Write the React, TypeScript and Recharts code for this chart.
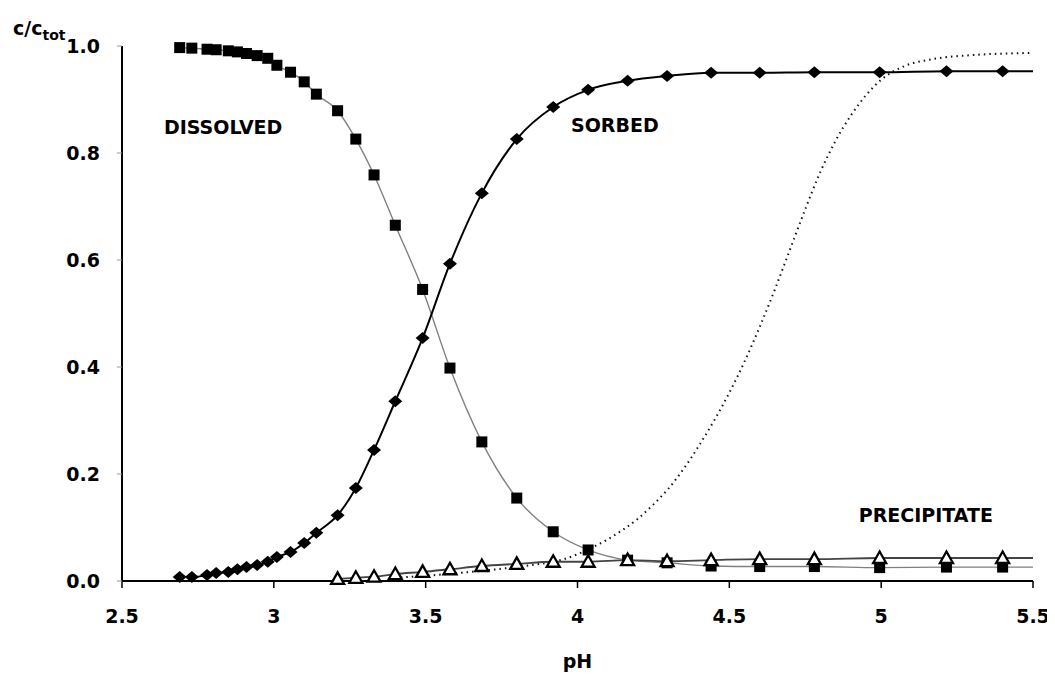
import { ComposedChart, Line, XAxis, YAxis, ReferenceDot } from "recharts";

// pH of the sampled points (shared by all three measured series)
const phPoints = [
  2.69, 2.73, 2.78, 2.81, 2.85, 2.88, 2.91, 2.945, 2.98, 3.01, 3.055, 3.1, 3.14,
  3.21, 3.27, 3.33, 3.4, 3.49, 3.58, 3.685, 3.8, 3.92, 4.035, 4.165, 4.295,
  4.44, 4.6, 4.78, 4.995, 5.215, 5.4
];
const dissolved = [
  0.997, 0.996, 0.994, 0.993, 0.991, 0.989, 0.986, 0.982, 0.977, 0.964, 0.951,
  0.933, 0.91, 0.879, 0.826, 0.759, 0.665, 0.545, 0.398, 0.26, 0.155, 0.092,
  0.058, 0.039, 0.034, 0.028, 0.027, 0.027, 0.025, 0.026, 0.026
];
const sorbed = [
  0.0075, 0.0075, 0.011, 0.015, 0.017, 0.022, 0.026, 0.03, 0.036, 0.045, 0.054,
  0.071, 0.09, 0.123, 0.174, 0.245, 0.336, 0.454, 0.593, 0.725, 0.826, 0.886,
  0.918, 0.935, 0.944, 0.95, 0.95, 0.951, 0.951, 0.953, 0.953
];
// precipitate is only measured from pH 3.21 on
const precipitateFrom = 13;
const precipitate = [
  0.004, 0.006, 0.008, 0.013, 0.017, 0.022, 0.028, 0.032, 0.036, 0.036, 0.039,
  0.037, 0.039, 0.041, 0.041, 0.043, 0.043, 0.043
];
const phEnd = 5.5;
const endValues = { dissolved: 0.026, sorbed: 0.953, precipitate: 0.043 };

// dotted model curve
const modelPh = [
  3.4, 3.55, 3.7, 3.85, 3.95, 4.0, 4.05, 4.1, 4.15, 4.2, 4.25, 4.3, 4.35, 4.4,
  4.45, 4.5, 4.55, 4.6, 4.65, 4.7, 4.75, 4.8, 4.85, 4.9, 4.95, 5.0, 5.075, 5.175,
  5.3, 5.5
];
const modelValues = [
  0.006, 0.012, 0.02, 0.03, 0.04, 0.05, 0.063, 0.078, 0.096, 0.117, 0.143,
  0.173, 0.21, 0.253, 0.3, 0.352, 0.41, 0.475, 0.545, 0.62, 0.695, 0.765, 0.823,
  0.87, 0.908, 0.937, 0.962, 0.976, 0.983, 0.987
];

const xTicks = [2.5, 3, 3.5, 4, 4.5, 5, 5.5];
const yTicks = [0, 0.2, 0.4, 0.6, 0.8, 1.0];

const notes = [
  { text: "DISSOLVED", ph: 2.833, value: 0.849 },
  { text: "SORBED", ph: 4.123, value: 0.852 },
  { text: "PRECIPITATE", ph: 5.147, value: 0.123 }
];

const font = "'DejaVu Sans', sans-serif";

function rows(xs: number[], ys: number[], endY?: number) {
  const out: Array<{ x: number; y: number; end?: boolean }> = ys.map((y, i) => ({ x: xs[i], y }));
  if (endY !== undefined) out.push({ x: phEnd, y: endY, end: true });
  return out;
}

const dissolvedData = rows(phPoints, dissolved, endValues.dissolved);
const sorbedData = rows(phPoints, sorbed, endValues.sorbed);
const precipitateData = rows(phPoints.slice(precipitateFrom), precipitate, endValues.precipitate);
const modelData = rows(modelPh, modelValues);

const squareDot = (p: any) => {
  if (p.payload?.end) return <g key={p.index} />;
  return <rect key={p.index} x={p.cx - 5.5} y={p.cy - 5.5} width={11} height={11} fill="#000" />;
};

const diamondDot = (p: any) => {
  if (p.payload?.end) return <g key={p.index} />;
  const { cx, cy } = p;
  return (
    <polygon
      key={p.index}
      points={`${cx},${cy - 6} ${cx + 7},${cy} ${cx},${cy + 6} ${cx - 7},${cy}`}
      fill="#000"
    />
  );
};

const triangleDot = (p: any) => {
  if (p.payload?.end) return <g key={p.index} />;
  const { cx, cy } = p;
  return (
    <polygon
      key={p.index}
      points={`${cx},${cy - 6.5} ${cx + 6.5},${cy + 5} ${cx - 6.5},${cy + 5}`}
      fill="#fff"
      stroke="#000"
      strokeWidth={2.3}
      strokeLinejoin="miter"
    />
  );
};

const YTitle = (props: any) => {
  const vb = props.viewBox || { x: 62, y: 38 };
  return (
    <text x={vb.x - 49} y={vb.y - 11} fontFamily={font} fontWeight="bold" fontSize={19} fill="#000">
      <tspan>c/c</tspan>
      <tspan dy={5} fontSize={14}>tot</tspan>
    </text>
  );
};

const XTitle = (props: any) => {
  const vb = props.viewBox || { x: 122, y: 573, width: 911 };
  return (
    <text
      x={vb.x + vb.width / 2}
      y={vb.y + 87}
      textAnchor="middle"
      fontFamily={font}
      fontWeight="bold"
      fontSize={19}
      fill="#000"
    >
      pH
    </text>
  );
};

const tickStyle = { fontFamily: font, fontWeight: "bold", fontSize: 19, fill: "#000" };

export default function App() {
  return (
    <div style={{ width: 1055, height: 666, marginLeft: -8 }}>
      <ComposedChart width={1055} height={666} margin={{ top: 38, right: 22, bottom: 8, left: 62 }}>
        <XAxis
          type="number"
          dataKey="x"
          domain={[2.5, 5.5]}
          ticks={xTicks}
          allowDataOverflow
          height={85}
          tick={tickStyle}
          tickFormatter={(v: number) => String(v)}
          tickSize={7}
          tickMargin={22}
          axisLine={{ stroke: "#000", strokeWidth: 2 }}
          tickLine={{ stroke: "#000", strokeWidth: 1.5 }}
          label={<XTitle />}
        />
        <YAxis
          type="number"
          domain={[0, 1]}
          ticks={yTicks}
          width={60}
          tick={tickStyle}
          tickFormatter={(v: number) => v.toFixed(1)}
          tickSize={5}
          tickMargin={17}
          axisLine={{ stroke: "#000", strokeWidth: 2 }}
          tickLine={{ stroke: "#999", strokeWidth: 1 }}
          label={<YTitle />}
        />
        <Line
          data={modelData}
          dataKey="y"
          type="monotone"
          stroke="#111"
          strokeWidth={2}
          strokeDasharray="1.5 4"
          dot={false}
          activeDot={false}
          isAnimationActive={false}
        />
        <Line
          data={dissolvedData}
          dataKey="y"
          type="monotone"
          stroke="#808080"
          strokeWidth={1.4}
          dot={squareDot}
          activeDot={false}
          isAnimationActive={false}
        />
        <Line
          data={precipitateData}
          dataKey="y"
          type="monotone"
          stroke="#444"
          strokeWidth={1.8}
          dot={triangleDot}
          activeDot={false}
          isAnimationActive={false}
        />
        <Line
          data={sorbedData}
          dataKey="y"
          type="monotone"
          stroke="#000"
          strokeWidth={2}
          dot={diamondDot}
          activeDot={false}
          isAnimationActive={false}
        />
        {notes.map((n) => (
          <ReferenceDot
            key={n.text}
            x={n.ph}
            y={n.value}
            r={0}
            fill="none"
            stroke="none"
            label={{
              value: n.text,
              position: "center",
              fontFamily: font,
              fontWeight: "bold",
              fontSize: 19,
              fill: "#000"
            }}
          />
        ))}
      </ComposedChart>
    </div>
  );
}
